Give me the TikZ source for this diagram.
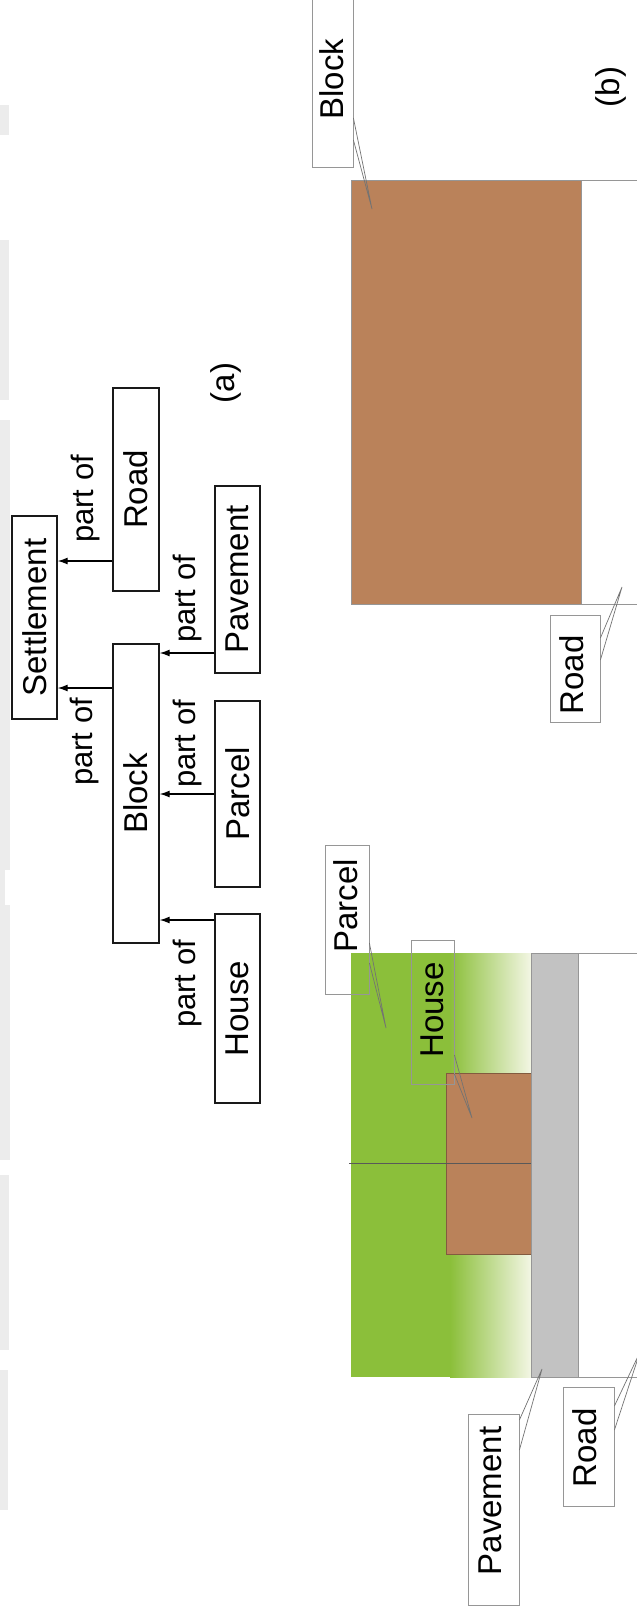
\documentclass[tikz,border=0pt]{standalone}
\usepackage{fontspec}
\setmainfont{Liberation Sans}
\usetikzlibrary{arrows.meta}
\definecolor{brownc}{RGB}{186,130,90}
\definecolor{greenc}{RGB}{139,191,58}
\definecolor{gradend}{RGB}{243,246,228}
\definecolor{pavec}{RGB}{194,194,194}
\definecolor{cline}{RGB}{150,150,150}
\definecolor{edgec}{RGB}{236,236,236}
\begin{document}
\begin{tikzpicture}[x=1pt,y=-1pt,
  treebox/.style={draw=black!90, line width=1.4pt, rotate=90, inner sep=0pt, font=\fontsize{33}{36}\selectfont},
  pof/.style={rotate=90, inner sep=0pt, font=\fontsize{31}{34}\selectfont},
  arr/.style={line width=1.2pt, -{Latex[length=10pt,width=7pt]}},
  cbox/.style={draw=cline, line width=0.8pt, rotate=90, inner sep=0pt},
  lbl/.style={rotate=90, inner sep=0pt, font=\fontsize{33}{36}\selectfont},
  wedge/.style={draw=black!55, line width=0.7pt},
  roadline/.style={draw=cline, line width=0.8pt}]
\useasboundingbox (0,0) rectangle (637,1612);
\fill[white] (0,0) rectangle (637,1612);
% faint scan edge on the left
\foreach \a/\b/\w in {105/135/9,240/400/9,420/870/10,870/905/5,905/1160/10,1175/1350/9,1370/1510/8}
  \fill[edgec] (0,\a) rectangle (\w,\b);

% ---------- (a) hierarchy ----------
\node[treebox, minimum width=203pt, minimum height=45pt] (settle) at (34.5,617.5) {Settlement};
\node[treebox, minimum width=203pt, minimum height=46pt] (road) at (136,489.5) {Road};
\node[treebox, minimum width=299pt, minimum height=46pt] (block) at (136,793.5) {Block};
\node[treebox, minimum width=187pt, minimum height=45pt] (pave) at (237.5,579.5) {Pavement};
\node[treebox, minimum width=186pt, minimum height=45pt] (parcel) at (237.5,794) {Parcel};
\node[treebox, minimum width=189pt, minimum height=45pt] (house) at (237.5,1008.5) {House};

\draw[arr] (road.north |- 0,561) -- (settle.south |- 0,561);
\draw[arr] (block.north |- 0,688) -- (settle.south |- 0,688);
\draw[arr] (pave.north |- 0,653) -- (block.south |- 0,653);
\draw[arr] (parcel.north |- 0,794) -- (block.south |- 0,794);
\draw[arr] (house.north |- 0,920) -- (block.south |- 0,920);

\node[pof] (p1) at (85,499) {part of};
\node[pof] (p2) at (84,742) {part of};
\node[pof] (p3) at (187,599) {part of};
\node[pof] (p4) at (187,744) {part of};
\node[pof] (p5) at (187,984) {part of};
\node[lbl] (capa) at (226,383) {(a)};

% ---------- (b) block level ----------
\fill[brownc] (351,180) rectangle (581,604);
\draw[cline, line width=0.5pt] (351,180) rectangle (581,604);
\draw[roadline] (581,180) -- (637,180);
\draw[roadline] (581,604) -- (637,604);

\node[cbox, minimum width=172pt, minimum height=41pt] (blockbox) at (332.5,81) {};
\node[lbl] (blocktxt) at (332,79) {Block};
\coordinate (blocktip) at (372,209);
\draw[wedge] (blockbox.south |- 0,118) -- (blocktip) -- (blockbox.south |- 0,140);

\node[cbox, minimum width=107pt, minimum height=50pt] (roadbox1) at (575,668.5) {};
\node[lbl] (roadtxt1) at (572,675) {Road};
\coordinate (roadtip1) at (622,587);
\draw[wedge] (roadbox1.south |- 0,638) -- (roadtip1) -- (roadbox1.south |- 0,660);

\node[lbl] (capb) at (611,87) {(b)};

% ---------- (b) parcel level ----------
\fill[greenc] (351,953) rectangle (531,1377);
\shade[left color=greenc, right color=gradend] (450,953) rectangle (531,1377);
\fill[brownc] (446,1073) rectangle (532,1254);
\draw[brownc!70!black, line width=0.6pt] (446,1073) rectangle (532,1254);
\fill[pavec] (531,953) rectangle (578,1377);
\draw[cline, line width=0.7pt] (531,953) rectangle (578,1377);
\draw[roadline] (578,953) -- (637,953);
\draw[roadline] (578,1377) -- (637,1377);
\draw[black!65, line width=0.8pt] (349,1163) -- (531,1163);

\node[cbox, minimum width=149pt, minimum height=44pt] (parcelbox) at (347,919.5) {};
\node[lbl] (parceltxt) at (346,906) {Parcel};
\coordinate (parceltip) at (386,1028);
\draw[wedge] (parcelbox.south |- 0,943) -- (parceltip) -- (parcelbox.south |- 0,963);

\node[cbox, minimum width=144pt, minimum height=43pt] (housebox) at (432.5,1012) {};
\node[lbl] (housetxt) at (432,1010) {House};
\coordinate (housetip) at (472,1118);
\draw[wedge] (housebox.south |- 0,1055) -- (housetip) -- (housebox.south |- 0,1074);

\node[cbox, minimum width=191pt, minimum height=51pt] (pavebox) at (493.5,1509.5) {};
\node[lbl] (pavetxt) at (490,1501) {Pavement};
\coordinate (pavetip) at (542,1369);
\draw[wedge] (pavebox.south |- 0,1420) -- (pavetip) -- (pavebox.south |- 0,1450);

\node[cbox, minimum width=119pt, minimum height=51pt] (roadbox2) at (588.5,1446.5) {};
\node[lbl] (roadtxt2) at (585,1448) {Road};
\coordinate (roadtip2) at (640,1352);
\draw[wedge] (roadbox2.south |- 0,1406) -- (roadtip2) -- (roadbox2.south |- 0,1430);
\end{tikzpicture}
\end{document}
